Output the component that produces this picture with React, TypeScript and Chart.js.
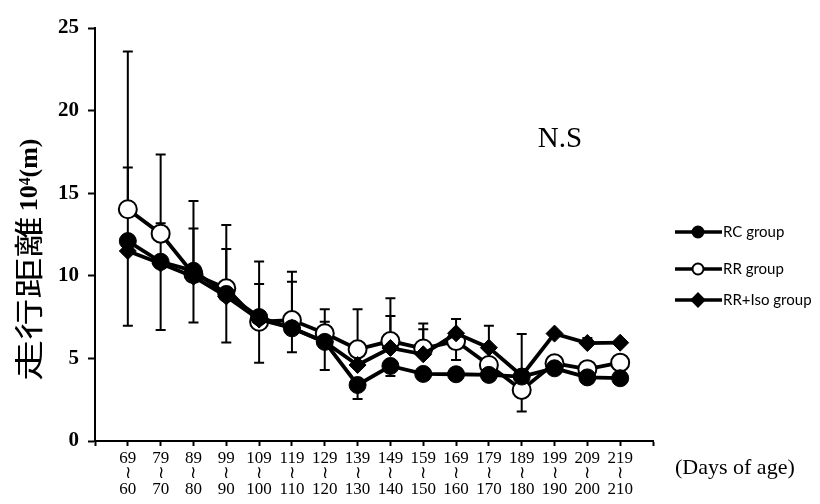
import React, { useEffect, useRef } from "react";
import { Chart, registerables } from "chart.js";

Chart.register(...registerables);

// Age ranges (days): upper end shown on top, lower end below
const AGE_TOP = ["69", "79", "89", "99", "109", "119", "129", "139", "149", "159", "169", "179", "189", "199", "209", "219"];
const AGE_BOTTOM = ["60", "70", "80", "90", "100", "110", "120", "130", "140", "150", "160", "170", "180", "190", "200", "210"];

const SERIES_NAMES = ["RC group", "RR group", "RR+Iso group"];

// Running distance (x10^4 m)
const RC_VALUES = [12.1, 10.85, 10.3, 8.9, 7.5, 6.82, 6.0, 3.39, 4.54, 4.06, 4.04, 4.0, 3.9, 4.4, 3.85, 3.8];
const RR_VALUES = [14.03, 12.55, 10.1, 9.24, 7.22, 7.32, 6.52, 5.55, 6.05, 5.6, 6.05, 4.6, 3.09, 4.7, 4.35, 4.74];
const ISO_VALUES = [11.5, 10.75, 9.95, 8.75, 7.35, 6.85, 6.0, 4.6, 5.63, 5.25, 6.52, 5.65, 3.95, 6.5, 5.93, 5.95];

// Error bars (upper / lower extents)
const RC_ERR_PLUS = [0, 0, 0, 0, 0, 0, 0, 0, 0, 0, 0, 0, 0, 0, 0, 0];
const RC_ERR_MINUS = [5.12, 4.13, 3.12, 2.93, 2.76, 1.45, 1.7, 0.85, 0.6, 0.3, 0, 0, 0, 0, 0, 0];
const RR_ERR_PLUS = [9.54, 4.8, 4.43, 3.83, 3.64, 2.93, 1.45, 2.42, 2.59, 1.52, 1.33, 0, 0, 0, 0, 0];
const RR_ERR_MINUS = [0, 0, 0, 0, 0, 0, 0, 0, 0, 0, 0, 0, 1.31, 0, 0, 0];
const ISO_ERR_PLUS = [5.05, 2.43, 2.92, 2.87, 2.15, 2.79, 1.22, 0, 1.94, 1.51, 0, 1.33, 2.53, 0, 0.3, 0];
const ISO_ERR_MINUS = [0, 0, 0, 0, 0, 0, 0, 0, 0, 0, 1.62, 0, 0, 0, 0, 0];

const Y_TICKS = [0, 5, 10, 15, 20, 25];
const Y_TITLE_CJK = "走行距離";
const Y_TITLE_UNIT = "10⁴(m)";
const X_TITLE = "(Days of age)";
const NOTE = "N.S";
const SQUIGGLE = "≀";

const toPoints = (arr: number[]) => arr.map((v, i) => ({ x: i + 1, y: v }));

const errorBarPlugin = {
  id: "errorBars",
  beforeDatasetsDraw(chart: any) {
    const { ctx } = chart;
    const xs = chart.scales.x;
    const ys = chart.scales.y;
    ctx.save();
    ctx.strokeStyle = "#000";
    ctx.lineWidth = 2;
    chart.data.datasets.forEach((ds: any) => {
      ds.data.forEach((p: any, i: number) => {
        const px = xs.getPixelForValue(p.x);
        const py = ys.getPixelForValue(p.y);
        const ends: number[] = [];
        if (ds.errPlus && ds.errPlus[i] > 0) ends.push(p.y + ds.errPlus[i]);
        if (ds.errMinus && ds.errMinus[i] > 0) ends.push(p.y - ds.errMinus[i]);
        ends.forEach((e) => {
          const ey = ys.getPixelForValue(e);
          ctx.beginPath();
          ctx.moveTo(px, py);
          ctx.lineTo(px, ey);
          ctx.moveTo(px - 5, ey);
          ctx.lineTo(px + 5, ey);
          ctx.stroke();
        });
      });
    });
    ctx.restore();
  },
};

const decorPlugin = {
  id: "decor",
  afterDraw(chart: any) {
    const { ctx } = chart;
    ctx.save();
    ctx.fillStyle = "#000";

    // Y axis title (stretched CJK + unit)
    ctx.save();
    ctx.translate(29, 381);
    ctx.rotate(-Math.PI / 2);
    ctx.textBaseline = "middle";
    ctx.textAlign = "left";
    ctx.font = '29px "Noto Sans CJK JP"';
    const w = ctx.measureText(Y_TITLE_CJK).width;
    const sx = 1.42;
    ctx.save();
    ctx.scale(sx, 1);
    ctx.fillText(Y_TITLE_CJK, 0, 0);
    ctx.restore();
    ctx.font = 'bold 26px "Liberation Serif"';
    ctx.fillText(Y_TITLE_UNIT, w * sx + 5, 1);
    ctx.restore();

    // X axis note
    ctx.font = '22px "Liberation Serif"';
    ctx.textAlign = "left";
    ctx.textBaseline = "middle";
    ctx.fillText(X_TITLE, 675, 468);

    // N.S
    ctx.font = '29px "Liberation Serif"';
    ctx.textAlign = "center";
    ctx.fillText(NOTE, 560, 139);

    // Legend
    const rows = [232, 269, 300];
    const order = [0, 2, 1]; // dataset index for RC, RR, Iso
    const dsList = chart.data.datasets;
    rows.forEach((ry, r) => {
      const ds = dsList[order[r]];
      ctx.strokeStyle = "#000";
      ctx.lineWidth = 3.5;
      ctx.beginPath();
      ctx.moveTo(675, ry);
      ctx.lineTo(722, ry);
      ctx.stroke();
      ctx.lineWidth = 2;
      ctx.fillStyle = ds.pointBackgroundColor;
      ctx.beginPath();
      if (ds.pointStyle === "rectRot") {
        const r2 = 6.5;
        ctx.moveTo(698, ry - r2);
        ctx.lineTo(698 + r2, ry);
        ctx.lineTo(698, ry + r2);
        ctx.lineTo(698 - r2, ry);
        ctx.closePath();
      } else {
        ctx.arc(698, ry, 5.5, 0, Math.PI * 2);
      }
      ctx.fill();
      ctx.stroke();
      ctx.fillStyle = "#000";
      ctx.font = '15px Lato';
      ctx.textAlign = "left";
      ctx.textBaseline = "middle";
      ctx.fillText(ds.label, 723, ry);
    });

    ctx.restore();
  },
};

export default function App() {
  const canvasRef = useRef<HTMLCanvasElement | null>(null);

  useEffect(() => {
    if (!canvasRef.current) return;
    const chart = new Chart(canvasRef.current, {
      type: "line",
      data: {
        datasets: [
          {
            label: SERIES_NAMES[0],
            data: toPoints(RC_VALUES),
            errPlus: RC_ERR_PLUS,
            errMinus: RC_ERR_MINUS,
            borderColor: "#000",
            borderWidth: 3.8,
            pointStyle: "circle",
            pointRadius: 8.5,
            pointBackgroundColor: "#000",
            pointBorderColor: "#000",
            pointBorderWidth: 1,
          } as any,
          {
            label: SERIES_NAMES[2],
            data: toPoints(ISO_VALUES),
            errPlus: ISO_ERR_PLUS,
            errMinus: ISO_ERR_MINUS,
            borderColor: "#000",
            borderWidth: 3.8,
            pointStyle: "rectRot",
            pointRadius: 8.5,
            pointBackgroundColor: "#000",
            pointBorderColor: "#000",
            pointBorderWidth: 1,
          } as any,
          {
            label: SERIES_NAMES[1],
            data: toPoints(RR_VALUES),
            errPlus: RR_ERR_PLUS,
            errMinus: RR_ERR_MINUS,
            borderColor: "#000",
            borderWidth: 3.8,
            pointStyle: "circle",
            pointRadius: 9,
            pointBackgroundColor: "#fff",
            pointBorderColor: "#000",
            pointBorderWidth: 2,
          } as any,
        ],
      },
      options: {
        animation: false,
        responsive: true,
        maintainAspectRatio: false,
        layout: { padding: { left: 0, top: 28, right: 167, bottom: 0 } },
        plugins: {
          legend: { display: false },
          tooltip: { enabled: false },
        },
        scales: {
          x: {
            type: "linear",
            min: 0,
            max: AGE_TOP.length + 1,
            afterFit: (s: any) => {
              s.height = 63;
            },
            afterBuildTicks: (s: any) => {
              const t = [];
              for (let i = 0; i <= AGE_TOP.length + 1; i++) t.push({ value: i });
              s.ticks = t;
            },
            border: { display: true, color: "#000", width: 2 },
            grid: {
              display: true,
              drawOnChartArea: false,
              drawTicks: true,
              tickLength: 5,
              tickColor: "#000",
              tickWidth: 2,
            },
            ticks: {
              autoSkip: false,
              maxRotation: 0,
              minRotation: 0,
              padding: 5,
              color: "#000",
              font: { family: '"Liberation Serif", "DejaVu Serif"', size: 17, lineHeight: 0.9 },
              callback: (v: any) => {
                const i = Math.round(v) - 1;
                if (i < 0 || i >= AGE_TOP.length) return "";
                return [AGE_TOP[i], SQUIGGLE, AGE_BOTTOM[i]];
              },
            },
          },
          y: {
            type: "linear",
            min: Y_TICKS[0],
            max: Y_TICKS[Y_TICKS.length - 1],
            afterFit: (s: any) => {
              s.width = 95;
            },
            afterBuildTicks: (s: any) => {
              s.ticks = Y_TICKS.map((v) => ({ value: v }));
            },
            border: { display: true, color: "#000", width: 2 },
            grid: {
              display: true,
              drawOnChartArea: false,
              drawTicks: true,
              tickLength: 7,
              tickColor: "#000",
              tickWidth: 2,
            },
            ticks: {
              padding: 9,
              color: "#000",
              font: { family: '"Liberation Serif"', size: 21, weight: "bold" },
            },
          },
        },
      } as any,
      plugins: [errorBarPlugin, decorPlugin],
    });
    return () => chart.destroy();
  }, []);

  return (
    <div style={{ position: "fixed", left: 0, top: 0, width: 820, height: 504, background: "#fff" }}>
      <canvas ref={canvasRef} />
    </div>
  );
}
